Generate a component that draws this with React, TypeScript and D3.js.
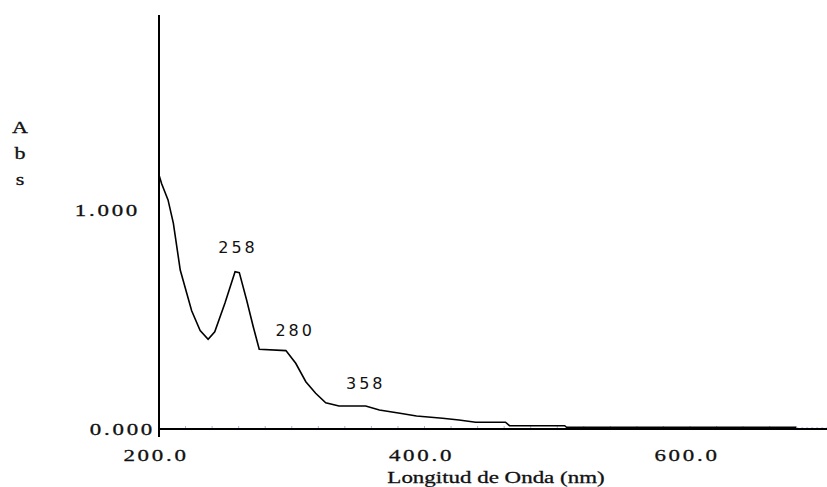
import React from "react";
import * as d3 from "d3";

const wavelength = [200, 202, 206.8, 210.8, 216, 224.6, 231, 237, 242, 249.7, 257.3, 260.5, 266, 271, 275.5, 295.6, 303, 310.6, 318, 325.6, 335.6, 355.7, 366, 381.5, 394, 413.6, 426, 438.5, 461, 464, 505.6, 507, 680];
const absorbance = [1.16, 1.12, 1.046, 0.94, 0.726, 0.54, 0.45, 0.41, 0.444, 0.575, 0.718, 0.714, 0.589, 0.467, 0.364, 0.358, 0.3, 0.216, 0.163, 0.12, 0.105, 0.105, 0.087, 0.072, 0.059, 0.049, 0.041, 0.031, 0.031, 0.015, 0.015, 0.008, 0.008];

const xTicks = [200, 400, 600];
const xTickLabels = ["200.0", "400.0", "600.0"];
const yTicks = [0, 1];
const yTickLabels = ["0.000", "1.000"];
const peakLabels = ["258", "280", "358"];
const peakWavelengths = [258, 280, 358];
const peakAbs = [0.718, 0.36, 0.105];
const minorTicks = d3.range(220, 700, 20);

// label placement offsets (px), style only
const peakDx = [2, 30, -3];
const peakDy = [-19, -14, -17];
const yLabelRight = [155, 140];

export default function App() {
  const W = 827, H = 487;
  const x = d3.scaleLinear().domain([200, 703.2]).range([159, 827]);
  const y = d3.scaleLinear().domain([0, 1.895]).range([429, 14]);
  const pts = wavelength.map((w, i) => [w, absorbance[i]] as [number, number]);
  const line = d3.line<[number, number]>().x(d => x(d[0])).y(d => y(d[1]));
  const serif = "'Liberation Serif', 'DejaVu Serif', serif";
  const sans = "'DejaVu Sans', 'Liberation Sans', sans-serif";
  const sx = 1.35;
  return (
    <svg width={W} height={H} style={{ position: "absolute", left: 0, top: 0, background: "#fff" }}>
      <rect x={0} y={0} width={W} height={H} fill="#fff" />
      {minorTicks.map(t => (
        <line key={t} x1={x(t)} x2={x(t)} y1={y(0) - 3} y2={y(0)} stroke="#aab0dd" strokeWidth={1} />
      ))}
      <line x1={x(680)} x2={827} y1={y(0) - 1} y2={y(0) - 1} stroke="#99a0dd" strokeWidth={1} strokeDasharray="2,3" />
      <path d={line(pts) || ""} fill="none" stroke="#000" strokeWidth={1.6} />
      <line x1={159} x2={159} y1={15} y2={437} stroke="#000" strokeWidth={2} />
      <line x1={159} x2={827} y1={y(0)} y2={y(0)} stroke="#000" strokeWidth={2} />
      {yTicks.map((t, i) => (
        <g key={t} transform={`translate(${yLabelRight[i]},${y(t)}) scale(${sx},1)`}>
          <text dy="0.35em" textAnchor="end" fontFamily={serif} fontSize={17} letterSpacing={2} fill="#111" stroke="#111" strokeWidth={0.3}>
            {yTickLabels[i]}
          </text>
        </g>
      ))}
      {xTicks.map((t, i) => (
        <g key={t} transform={`translate(${x(t) - 3},461) scale(${sx},1)`}>
          <text textAnchor="middle" fontFamily={serif} fontSize={17} letterSpacing={2} fill="#111" stroke="#111" strokeWidth={0.3}>
            {xTickLabels[i]}
          </text>
        </g>
      ))}
      <g transform={`translate(496,483) scale(${sx},1)`}>
        <text textAnchor="middle" fontFamily={serif} fontSize={17} fill="#111" stroke="#111" strokeWidth={0.3}>
          Longitud de Onda (nm)
        </text>
      </g>
      {["A", "b", "s"].map((c, i) => (
        <g key={c} transform={`translate(20,${133 + i * 26}) scale(1.3,1)`}>
          <text textAnchor="middle" fontFamily={serif} fontSize={17} fill="#111" stroke="#111" strokeWidth={0.3}>
            {c}
          </text>
        </g>
      ))}
      {peakLabels.map((lab, i) => (
        <text key={lab} x={x(peakWavelengths[i]) + peakDx[i]} y={y(peakAbs[i]) + peakDy[i]} textAnchor="middle" fontFamily={sans} fontSize={16} letterSpacing={3} fill="#111">
          {lab}
        </text>
      ))}
    </svg>
  );
}
